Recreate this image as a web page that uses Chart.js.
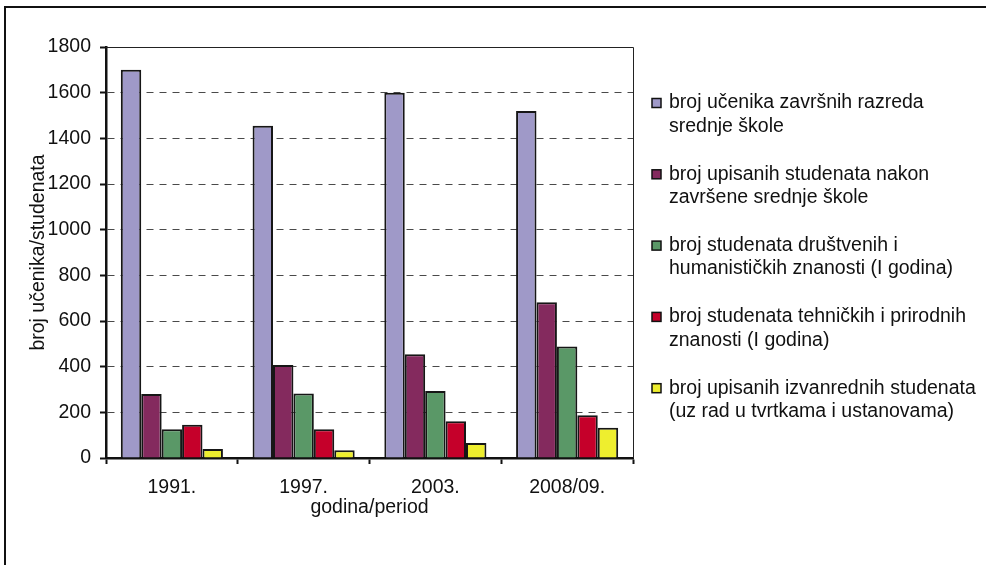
<!DOCTYPE html>
<html>
<head>
<meta charset="utf-8">
<script src="https://cdn.jsdelivr.net/npm/chart.js@4/dist/chart.umd.min.js"></script>
<style>
  html, body { margin: 0; padding: 0; background: #fff; }
  canvas { display: block; }
</style>
</head>
<body>
<canvas id="c" width="986" height="565"></canvas>
<script>
// Categories (school year / period)
const categories = ['1991.', '1997.', '2003.', '2008/09.'];

// Series values
const ucenikaZavrsnih   = [1700, 1455, 1600, 1520];
const upisanihNakonSS   = [280, 407, 454, 682];
const drustveniHuman    = [126, 282, 293, 488];
const tehnickiPrirodni  = [146, 126, 161, 187];
const izvanredni        = [39, 34, 66, 133];

// Legend labels (two lines each)
const seriesLabels = [
  ['broj učenika završnih razreda', 'srednje škole'],
  ['broj upisanih studenata nakon', 'završene srednje škole'],
  ['broj studenata društvenih i', 'humanističkih znanosti (I godina)'],
  ['broj studenata tehničkih i prirodnih', 'znanosti (I godina)'],
  ['broj upisanih izvanrednih studenata', '(uz rad u tvrtkama i ustanovama)']
];

const yTitle = 'broj učenika/studenata';
const xTitle = 'godina/period';

const colors = ['#9F99C8', '#842A5E', '#5A9867', '#C5002A', '#EEEE2E'];
const seriesValues = [ucenikaZavrsnih, upisanihNakonSS, drustveniHuman, tehnickiPrirodni, izvanredni];

const FONT = { family: 'Liberation Sans, Arial, sans-serif', size: 19.5 };

// Outer frame, plot-area frame and a two-line legend on the right
const decorations = {
  id: 'decorations',
  beforeDraw(chart) {
    const ctx = chart.ctx;
    ctx.save();
    ctx.fillStyle = '#fff';
    ctx.fillRect(0, 0, chart.width, chart.height);
    ctx.restore();
  },
  afterDraw(chart) {
    const ctx = chart.ctx;
    const a = chart.chartArea;
    ctx.save();
    // outer frame
    ctx.strokeStyle = '#111';
    ctx.lineWidth = 2;
    ctx.strokeRect(5, 7, chart.width + 20, chart.height + 20);
    // thin frame top/right of plot area
    ctx.lineWidth = 1;
    ctx.strokeStyle = '#222';
    ctx.beginPath();
    ctx.moveTo(a.left, a.top + 0.5);
    ctx.lineTo(a.right + 0.5, a.top + 0.5);
    ctx.lineTo(a.right + 0.5, a.bottom);
    ctx.stroke();

    // legend
    const boxX = 652, textX = 669, firstY = 103, itemGap = 71.3, lineGap = 23.5;
    ctx.font = FONT.size + 'px ' + FONT.family;
    ctx.textBaseline = 'middle';
    ctx.textAlign = 'left';
    chart.data.datasets.forEach((ds, i) => {
      const y = firstY + i * itemGap;
      ctx.fillStyle = ds.backgroundColor;
      ctx.fillRect(boxX, y - 4.5, 9, 9);
      ctx.strokeStyle = '#111';
      ctx.lineWidth = 1.5;
      ctx.strokeRect(boxX, y - 4.5, 9, 9);
      ctx.fillStyle = '#111';
      const lines = Array.isArray(ds.label) ? ds.label : [ds.label];
      lines.forEach((t, j) => ctx.fillText(t, textX, y + j * lineGap));
    });
    ctx.restore();
  }
};

new Chart(document.getElementById('c'), {
  type: 'bar',
  data: {
    labels: categories,
    datasets: seriesValues.map((vals, i) => ({
      label: seriesLabels[i],
      data: vals,
      backgroundColor: colors[i],
      borderColor: '#161616',
      borderWidth: 2,
      categoryPercentage: 0.775,
      barPercentage: 1.0
    }))
  },
  options: {
    responsive: false,
    animation: false,
    devicePixelRatio: 1,
    layout: { padding: { left: 0, top: 47, right: 353, bottom: 0 } },
    plugins: {
      legend: { display: false },
      tooltip: { enabled: false }
    },
    scales: {
      x: {
        grid: {
          offset: true,
          drawOnChartArea: false,
          tickLength: 6,
          tickColor: '#111',
          tickWidth: 2
        },
        border: { color: '#111', width: 2.5 },
        ticks: { color: '#111', font: FONT, padding: 12 },
        title: {
          display: true, text: xTitle, color: '#111', font: FONT,
          padding: { top: 0, bottom: 46 }
        },
        afterFit(scale) { scale.height = 107; }
      },
      y: {
        min: 0, max: 1800,
        ticks: {
          stepSize: 200, color: '#111', font: FONT, padding: 9,
          callback: (v) => String(v)
        },
        grid: {
          color: '#4a4a4a',
          lineWidth: 1,
          tickLength: 6,
          tickColor: '#111',
          tickWidth: 2
        },
        border: { color: '#111', width: 2.5, dash: [7, 6] },
        title: {
          display: true, text: yTitle, color: '#111', font: FONT,
          padding: { top: 27, bottom: 0 }
        },
        afterFit(scale) { scale.width = 106; }
      }
    }
  },
  plugins: [decorations]
});
</script>
</body>
</html>
